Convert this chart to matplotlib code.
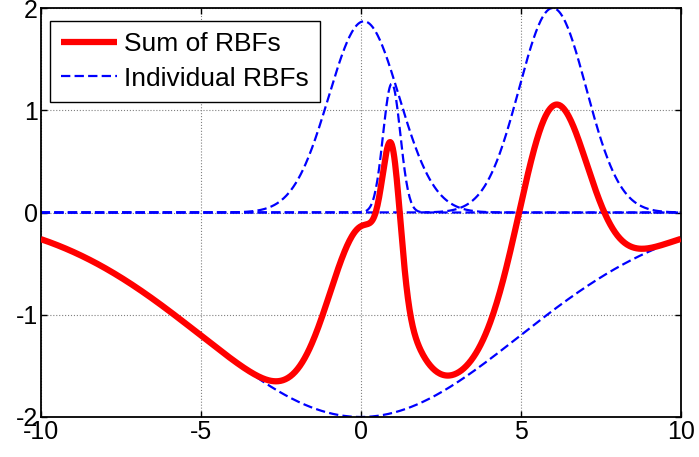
import numpy as np
import matplotlib
matplotlib.use("Agg")
import matplotlib.pyplot as plt

# RBF parameters (Gaussian bumps)
rbf_centers = [0.1, 0.97, 6.0, 0.0]
rbf_heights = [1.87, 1.26, 2.0, -2.0]
rbf_widths = [1.1, 0.27, 1.05, 4.95]

x_ticks = [-10, -5, 0, 5, 10]
y_ticks = [-2, -1, 0, 1, 2]
legend_labels = ["Sum of RBFs", "Individual RBFs"]

plt.rcParams['font.family'] = ['Liberation Sans', 'DejaVu Sans']

fig = plt.figure(figsize=(6.99, 4.57), dpi=100)
W, H = 699, 457
ax = fig.add_axes([40.7 / W, 1 - 417 / H, (680.7 - 40.7) / W, (417 - 8) / H])

xs = np.linspace(-10, 10, 801)
total = np.zeros_like(xs)
blue_handle = None
for c, h, w in zip(rbf_centers, rbf_heights, rbf_widths):
    y = h * np.exp(-(xs - c) ** 2 / (2 * w ** 2))
    total += y
    blue_handle, = ax.plot(xs, y, color='#0000ff', lw=1.6,
                           linestyle=(0, (4.2, 1.9)), zorder=2)
red_handle, = ax.plot(xs, total, color='#ff0000', lw=4.5, zorder=3,
                      solid_capstyle='butt')

ax.set_xlim(-10, 10)
ax.set_ylim(-2, 2)
ax.set_xticks(x_ticks)
ax.set_yticks(y_ticks)
ax.set_xticklabels([str(t) for t in x_ticks])
ax.set_yticklabels([str(t) for t in y_ticks])
ax.tick_params(direction='in', length=4, width=1, top=True, right=True,
               labelsize=18, pad=2, colors='black')
ax.grid(True, color='#808080', linestyle=':', linewidth=0.8)
for s in ax.spines.values():
    s.set_linewidth(1.3)
    s.set_color('black')

leg = ax.legend([red_handle, blue_handle], legend_labels,
                loc='upper left', bbox_to_anchor=(50 / W, 1 - 21 / H),
                bbox_transform=fig.transFigure, fontsize=19,
                frameon=True, fancybox=False, shadow=False,
                handlelength=2.12, handletextpad=0.27, borderpad=0.42,
                labelspacing=0.4, borderaxespad=0)
leg.get_frame().set_edgecolor('black')
leg.get_frame().set_linewidth(1.0)
leg.get_frame().set_alpha(1)

fig.savefig('out.png', dpi=100)
